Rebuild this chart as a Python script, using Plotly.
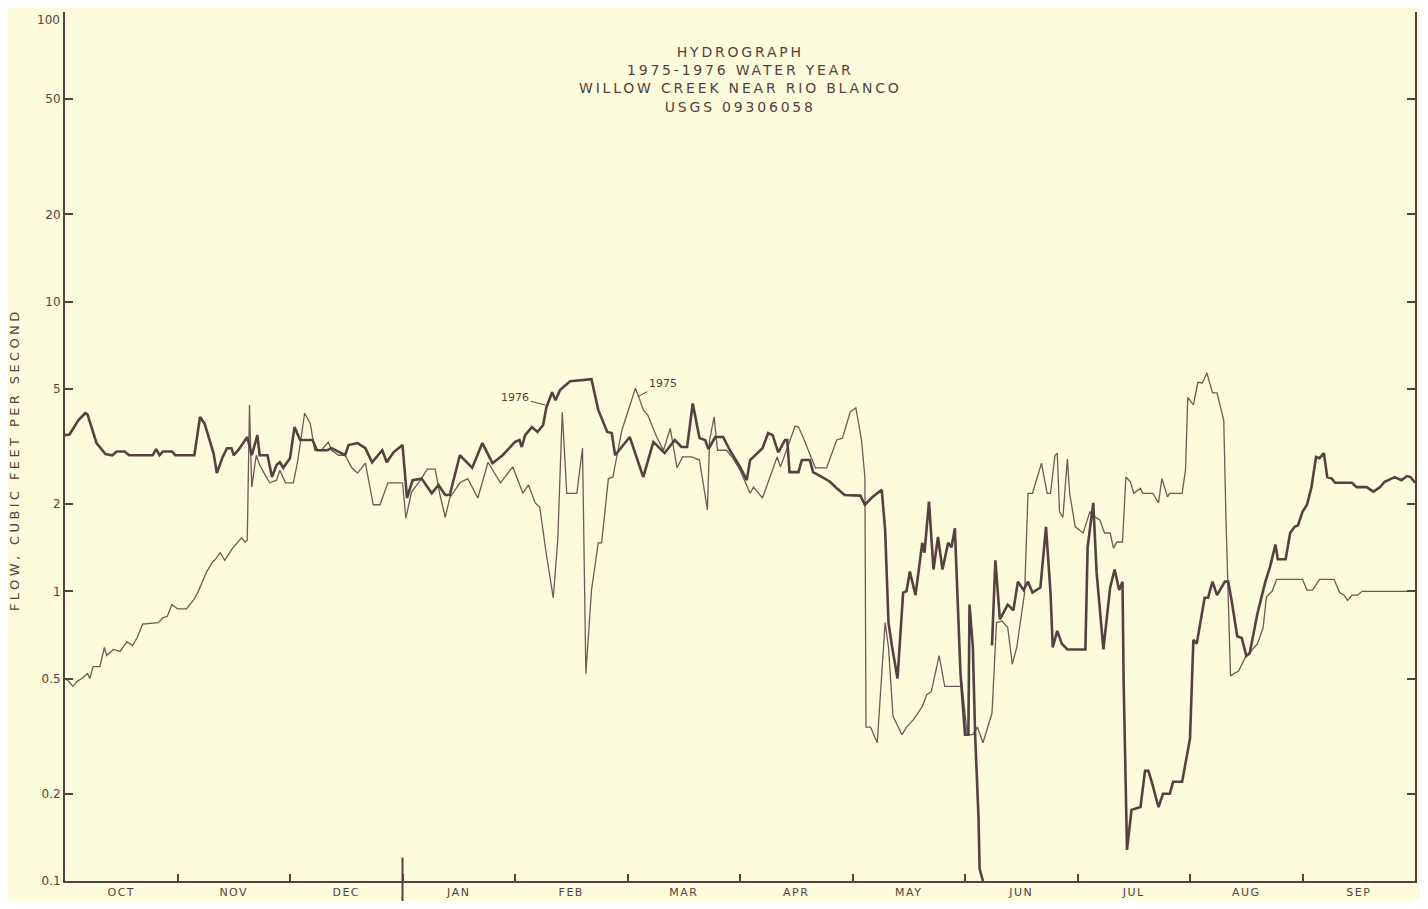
import plotly.graph_objects as go

# x positions are in months of the water year (0 = Oct 1, 12 = Sep 30); flows in cfs
t1976 = [0.00, 0.04, 0.12, 0.18, 0.20, 0.24, 0.28, 0.36, 0.42, 0.46, 0.53, 0.57, 0.78, 0.81, 0.84, 0.87, 0.95, 0.98,
         1.15, 1.20, 1.24, 1.29, 1.32, 1.35, 1.40, 1.44, 1.48, 1.50, 1.54, 1.62, 1.66, 1.71, 1.73, 1.80, 1.84, 1.88,
         1.91, 1.94, 2.00, 2.04, 2.09, 2.20, 2.24, 2.33, 2.37, 2.49, 2.52, 2.60, 2.67, 2.73, 2.82, 2.86, 2.92, 3.00,
         3.04, 3.09, 3.17, 3.26, 3.32, 3.38, 3.42, 3.51, 3.62, 3.71, 3.80, 3.89, 4.00, 4.04, 4.06, 4.09, 4.15, 4.20,
         4.25, 4.28, 4.33, 4.36, 4.40, 4.49, 4.65, 4.68, 4.74, 4.82, 4.86, 4.89, 5.02, 5.14, 5.23, 5.33, 5.42, 5.48,
         5.53, 5.58, 5.64, 5.69, 5.72, 5.78, 5.85, 5.91, 6.00, 6.06, 6.09, 6.20, 6.25, 6.29, 6.34, 6.40, 6.42, 6.44,
         6.52, 6.55, 6.62, 6.65, 6.73, 6.80, 6.86, 6.93, 7.07, 7.11, 7.18, 7.26, 7.29, 7.32, 7.35, 7.40, 7.45, 7.48,
         7.51, 7.56, 7.62, 7.64, 7.68, 7.72, 7.76, 7.80, 7.85, 7.88, 7.91, 7.96, 8.00, 8.03, 8.04, 8.07, 8.09, 8.12,
         8.13, 8.16, 8.20,
         8.24, 8.27, 8.31, 8.38, 8.43, 8.47, 8.52, 8.56, 8.60, 8.67, 8.72, 8.76, 8.78, 8.82, 8.86, 8.91, 9.07, 9.09,
         9.14, 9.17, 9.23, 9.29, 9.33, 9.37, 9.40, 9.41, 9.44, 9.48, 9.56, 9.60, 9.63, 9.66, 9.72, 9.76, 9.82, 9.85,
         9.93, 10.00, 10.03, 10.06, 10.13, 10.16, 10.20, 10.24, 10.31, 10.34, 10.37, 10.42, 10.46, 10.50, 10.53,
         10.60, 10.67, 10.71, 10.76, 10.78, 10.85, 10.89, 10.93, 10.96, 11.00, 11.04, 11.08, 11.12, 11.15, 11.19,
         11.22, 11.26, 11.29, 11.44, 11.48, 11.57, 11.63, 11.69, 11.73, 11.82, 11.88, 11.93, 11.96, 12.00]
q1976 = [3.46, 3.48, 3.90, 4.12, 4.08, 3.65, 3.25, 2.98, 2.95, 3.04, 3.04, 2.95, 2.95, 3.10, 2.95, 3.04, 3.04, 2.95,
         2.95, 4.00, 3.80, 3.28, 3.00, 2.56, 2.90, 3.12, 3.12, 2.95, 3.07, 3.41, 2.95, 3.46, 2.95, 2.95, 2.48, 2.73,
         2.79, 2.67, 2.88, 3.69, 3.33, 3.33, 3.07, 3.07, 3.12, 2.95, 3.20, 3.25, 3.12, 2.79, 3.07, 2.79, 3.02, 3.20,
         2.10, 2.42, 2.45, 2.18, 2.33, 2.15, 2.15, 2.95, 2.67, 3.25, 2.77, 2.95, 3.28, 3.33, 3.15, 3.46, 3.69, 3.55,
         3.75, 4.33, 4.87, 4.57, 4.95, 5.31, 5.36, 5.40, 4.23, 3.55, 3.52, 2.95, 3.41, 2.48, 3.28, 3.00, 3.33, 3.15,
         3.15, 4.45, 3.38, 3.33, 3.10, 3.41, 3.41, 3.07, 2.69, 2.42, 2.84, 3.12, 3.52, 3.46, 3.02, 3.33, 3.33, 2.58,
         2.58, 2.84, 2.84, 2.58, 2.48, 2.39, 2.27, 2.15, 2.14, 1.99, 2.12, 2.24, 1.63, 0.78, 0.65, 0.50, 0.99, 1.00,
         1.17, 0.97, 1.47, 1.36, 2.04, 1.19, 1.54, 1.19, 1.47, 1.42, 1.65, 0.52, 0.32, 0.32, 0.90, 0.64, 0.32, 0.166,
         0.11, 0.10, None,
         0.65, 1.28, 0.80, 0.90, 0.86, 1.08, 1.01, 1.08, 0.99, 1.03, 1.67, 0.99, 0.64, 0.73, 0.66, 0.63, 0.63, 1.42,
         2.02, 1.16, 0.63, 1.03, 1.19, 1.01, 1.08, 0.49, 0.128, 0.176, 0.18, 0.24, 0.24, 0.22, 0.18, 0.20, 0.20, 0.22,
         0.22, 0.31, 0.68, 0.66, 0.95, 0.95, 1.08, 0.97, 1.08, 1.08, 0.93, 0.70, 0.69, 0.60, 0.61,
         0.84, 1.08, 1.21, 1.45, 1.29, 1.29, 1.59, 1.67, 1.69, 1.88, 1.99, 2.29, 2.91, 2.88, 3.00,
         2.48, 2.45, 2.37, 2.37, 2.29, 2.29, 2.21, 2.29, 2.39, 2.48, 2.42, 2.50, 2.48, 2.37]

t1975 = [0.00, 0.03, 0.07, 0.11, 0.15, 0.20, 0.22, 0.25, 0.31, 0.35, 0.37, 0.43, 0.49, 0.55, 0.60, 0.64, 0.69, 0.83,
         0.87, 0.91, 0.95, 1.00, 1.08, 1.14, 1.18, 1.26, 1.31, 1.33, 1.38, 1.42, 1.49, 1.53, 1.57, 1.60, 1.62, 1.64,
         1.66, 1.70, 1.73, 1.78, 1.82, 1.88, 1.91, 1.96, 2.03, 2.07, 2.13, 2.18, 2.22, 2.28, 2.34, 2.37, 2.43, 2.49,
         2.55, 2.60, 2.67, 2.74, 2.80, 2.87, 3.00, 3.03, 3.08, 3.16, 3.22, 3.29, 3.33, 3.38, 3.42, 3.51, 3.58, 3.67,
         3.76, 3.87, 3.98, 4.07, 4.12, 4.18, 4.22, 4.28, 4.34, 4.38, 4.42, 4.46, 4.55, 4.60, 4.63, 4.68, 4.74, 4.77,
         4.83, 4.87, 4.95, 5.07, 5.10, 5.14, 5.18, 5.26, 5.32, 5.38, 5.44, 5.49, 5.57, 5.64, 5.71, 5.73, 5.77, 5.80,
         5.88, 5.93, 6.00, 6.09, 6.12, 6.20, 6.33, 6.36, 6.49, 6.52, 6.56, 6.67, 6.77, 6.86, 6.91, 6.98, 7.03, 7.08,
         7.11, 7.12, 7.16, 7.22, 7.24, 7.29, 7.32, 7.36, 7.44, 7.48, 7.54, 7.62, 7.66, 7.70, 7.77, 7.82, 7.96, 7.97,
         8.02, 8.07, 8.11, 8.16, 8.24, 8.28, 8.33, 8.38, 8.42, 8.46, 8.53, 8.56, 8.60, 8.65, 8.68, 8.73, 8.76, 8.80,
         8.82, 8.84, 8.87, 8.91, 8.93, 8.98, 9.05, 9.11, 9.14, 9.20, 9.24, 9.29, 9.32, 9.35, 9.40, 9.43, 9.47, 9.50,
         9.56, 9.58, 9.67, 9.72, 9.75, 9.80, 9.82, 9.93, 9.96, 9.98, 10.03, 10.07, 10.11, 10.15, 10.20, 10.24, 10.30,
         10.32, 10.36, 10.39, 10.43, 10.49, 10.55, 10.60, 10.65, 10.68, 10.73, 10.77, 11.00, 11.04, 11.09, 11.15,
         11.28, 11.33, 11.37, 11.40, 11.44, 11.49, 11.53, 12.00]
q1975 = [0.50, 0.49, 0.47, 0.49, 0.50, 0.52, 0.50, 0.55, 0.55, 0.64, 0.60, 0.63, 0.62, 0.67, 0.65, 0.69, 0.77, 0.78,
         0.81, 0.82, 0.90, 0.87, 0.87, 0.93, 0.99, 1.17, 1.26, 1.28, 1.36, 1.28, 1.41, 1.47, 1.53, 1.48, 1.50, 4.40,
         2.29, 2.95, 2.73, 2.52, 2.37, 2.42, 2.62, 2.37, 2.37, 2.84, 4.12, 3.80, 3.07, 3.07, 3.28, 3.07, 2.95, 2.95,
         2.67, 2.56, 2.77, 1.99, 1.99, 2.37, 2.37, 1.79, 2.20, 2.42, 2.64, 2.64, 2.18, 1.80, 2.10, 2.37, 2.45, 2.10,
         2.79, 2.37, 2.69, 2.18, 2.33, 2.02, 1.95, 1.33, 0.95, 1.50, 4.15, 2.18, 2.18, 3.12, 0.52, 1.01, 1.47, 1.47,
         2.45, 2.48, 3.60, 5.02, 4.70, 4.23, 4.06, 3.41, 3.07, 3.65, 2.67, 2.91, 2.91, 2.84, 1.91, 3.33, 4.00, 3.07,
         3.07, 2.91, 2.62, 2.18, 2.29, 2.10, 2.91, 2.69, 3.72, 3.69, 3.41, 2.67, 2.67, 3.33, 3.38, 4.16, 4.30, 3.33,
         2.48, 0.34, 0.34, 0.30, 0.39, 0.78, 0.64, 0.37, 0.32, 0.34, 0.36, 0.40, 0.44, 0.45, 0.60, 0.47, 0.47, 0.49,
         0.32, 0.32, 0.34, 0.30, 0.38, 0.78, 0.79, 0.75, 0.56, 0.64, 0.99, 2.18, 2.18, 2.56, 2.77, 2.18, 2.18, 2.95,
         3.00, 1.88, 1.80, 2.86, 2.18, 1.67, 1.59, 1.88, 1.83, 1.76, 1.59, 1.59, 1.41, 1.48, 1.48, 2.48, 2.39, 2.18,
         2.27, 2.18, 2.18, 2.02, 2.45, 2.12, 2.18, 2.18, 2.62, 4.67, 4.40, 5.27, 5.24, 5.67, 4.84, 4.84, 3.90,
         1.76, 0.51, 0.52, 0.53, 0.59, 0.63, 0.66, 0.75, 0.96, 1.00, 1.10, 1.10, 1.01, 1.01, 1.10,
         1.10, 0.99, 0.97, 0.93, 0.97, 0.97, 1.00, 1.00]

months = ["OCT", "NOV", "DEC", "JAN", "FEB", "MAR", "APR", "MAY", "JUN", "JUL", "AUG", "SEP"]
month_centers = [i + 0.5 for i in range(12)]
month_bounds = list(range(1, 12))
y_ticks = [0.1, 0.2, 0.5, 1, 2, 5, 10, 20, 50, 100]
y_ticktext = ["0.1", "0.2", "0.5", "1", "2", "5", "10", "20", "50", ""]
top_label = "100"
title_lines = ["HYDROGRAPH", "1975-1976 WATER YEAR", "WILLOW CREEK NEAR RIO BLANCO", "USGS 09306058"]
y_title = "FLOW, CUBIC FEET PER SECOND"

ink = "#574040"
ink_thin = "#6e5a56"
paper = "#fcfbdc"
font = "DejaVu Sans"


def spaced(s, px):
    return f'<span style="letter-spacing:{px}px">{s}</span>'


fig = go.Figure()
fig.add_trace(go.Scatter(x=t1975, y=q1975, mode="lines", name="1975",
                         line=dict(color=ink_thin, width=1.3), connectgaps=False))
fig.add_trace(go.Scatter(x=t1976, y=q1976, mode="lines", name="1976",
                         line=dict(color=ink, width=2.6), connectgaps=False))

fig.update_layout(
    width=1420, height=893,
    paper_bgcolor=paper, plot_bgcolor=paper,
    margin=dict(l=57, r=13, t=4, b=20, autoexpand=False),
    showlegend=False,
    font=dict(family=font, color=ink),
    xaxis=dict(range=[0, 12], showgrid=False, zeroline=False, automargin=False,
               showline=True, linecolor=ink, linewidth=2, mirror=False,
               tickmode="array", tickvals=month_centers, ticktext=[spaced(m, 1.5) for m in months],
               ticks="", tickfont=dict(size=11, color=ink, family=font),
               minor=dict(tickmode="array", tickvals=month_bounds, ticks="inside",
                          ticklen=7, tickwidth=1.5, tickcolor=ink)),
    yaxis=dict(type="log", range=[-1, 2], showgrid=False, zeroline=False, automargin=False,
               showline=True, linecolor=ink, linewidth=2, mirror="ticks",
               tickmode="array", tickvals=y_ticks, ticktext=y_ticktext,
               ticks="inside", ticklen=8, tickwidth=1.5, tickcolor=ink,
               ticklabeloverflow="allow",
               tickfont=dict(size=12, color=ink, family=font)),
)

# top tick label, kept inside the page
fig.add_annotation(xref="paper", yref="paper", x=0, y=1, xanchor="right", yanchor="top",
                   xshift=-4, text=top_label, showarrow=False, borderpad=0,
                   font=dict(size=12, color=ink, family=font))

# long January tick crossing the axis (calendar-year boundary)
fig.add_shape(type="line", xref="x", yref="y domain", x0=3, x1=3, y0=-0.028, y1=0.027,
              line=dict(color=ink, width=2))

fig.add_annotation(xref="paper", yref="paper", x=0.5, y=0.965, xanchor="center", yanchor="top",
                   text="<br>".join(spaced(s, 2.8) for s in title_lines),
                   showarrow=False, align="center",
                   font=dict(size=14, color=ink, family=font))

fig.add_annotation(xref="paper", yref="paper", x=-0.037, y=0.4845, xanchor="center", yanchor="middle",
                   text=spaced(y_title, 3.4), textangle=-90, showarrow=False,
                   font=dict(size=13, color=ink, family=font))

fig.add_annotation(x=4.27, y=0.643, yref="y", text="1976", showarrow=True, arrowhead=0,
                   arrowwidth=1, arrowcolor=ink, ax=-30, ay=-8,
                   font=dict(size=11, color=ink, family=font))
fig.add_annotation(x=5.09, y=0.672, yref="y", text="1975", showarrow=True, arrowhead=0,
                   arrowwidth=1, arrowcolor=ink, ax=25, ay=-13,
                   font=dict(size=11, color=ink, family=font))

fig.write_html("out.html")
